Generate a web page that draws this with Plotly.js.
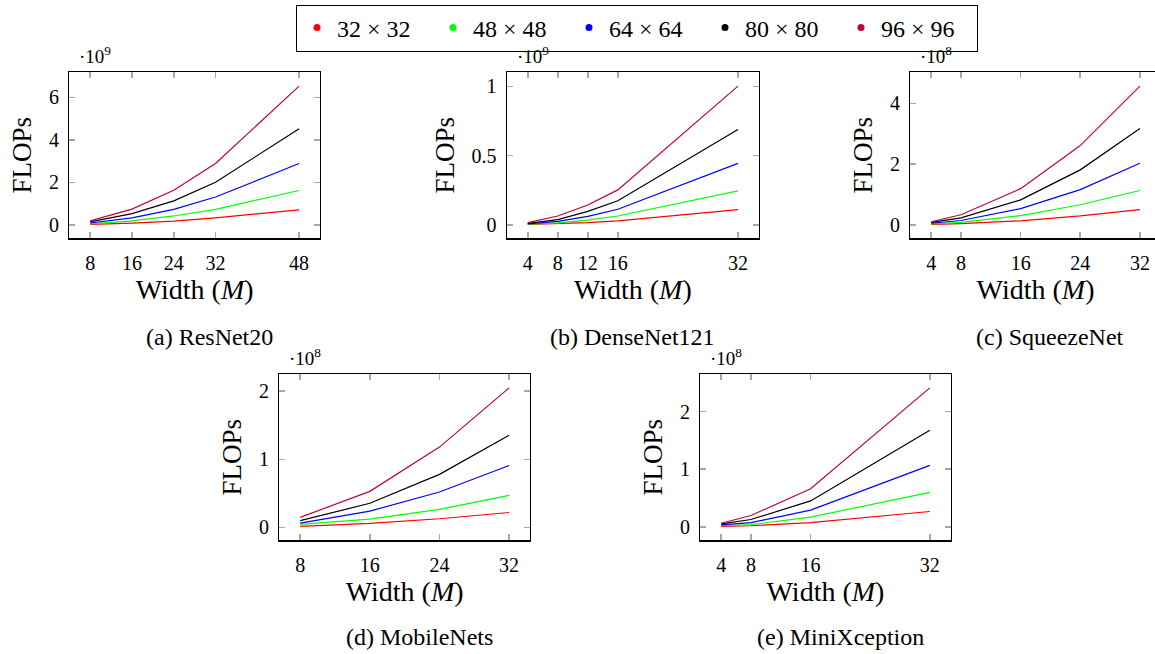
<!DOCTYPE html>
<html>
<head>
<meta charset="utf-8">
<script src="https://cdn.plot.ly/plotly-3.0.1.min.js"></script>
<style>
html, body { margin: 0; padding: 0; overflow: hidden; background: #fff; }
#chart { width: 1170px; height: 654px; }
</style>
</head>
<body>
<div id="chart"></div>
<script>
// ---------- data ----------
const seriesNames = ["32 × 32", "48 × 48", "64 × 64", "80 × 80", "96 × 96"];
const seriesColors = ["#ff0000", "#00ff00", "#0000ff", "#000000", "#bf0040"];

// (a) ResNet20, FLOPs in units of 1e9
const resnetWidth = [8, 16, 24, 32, 48];
const resnet32 = [0.02, 0.08, 0.18, 0.33, 0.71];
const resnet48 = [0.05, 0.19, 0.42, 0.73, 1.62];
const resnet64 = [0.09, 0.33, 0.73, 1.31, 2.89];
const resnet80 = [0.14, 0.53, 1.13, 2.01, 4.52];
const resnet96 = [0.19, 0.74, 1.63, 2.89, 6.53];

// (b) DenseNet121, FLOPs in units of 1e9
const densenetWidth = [4, 8, 12, 16, 32];
const densenet32 = [0.002, 0.006, 0.015, 0.028, 0.110];
const densenet48 = [0.004, 0.014, 0.034, 0.063, 0.245];
const densenet64 = [0.007, 0.025, 0.061, 0.112, 0.444];
const densenet80 = [0.010, 0.037, 0.097, 0.173, 0.688];
const densenet96 = [0.015, 0.063, 0.143, 0.252, 1.002];

// (c) SqueezeNet, FLOPs in units of 1e8
const squeezeWidth = [4, 8, 16, 24, 32];
const squeeze32 = [0.01, 0.04, 0.13, 0.29, 0.50];
const squeeze48 = [0.03, 0.08, 0.30, 0.66, 1.13];
const squeeze64 = [0.05, 0.14, 0.53, 1.16, 2.03];
const squeeze80 = [0.08, 0.23, 0.82, 1.81, 3.17];
const squeeze96 = [0.10, 0.33, 1.19, 2.61, 4.57];

// (d) MobileNets, FLOPs in units of 1e8
const mobileWidth = [8, 16, 24, 32];
const mobile32 = [0.015, 0.060, 0.128, 0.220];
const mobile48 = [0.044, 0.123, 0.266, 0.470];
const mobile64 = [0.064, 0.240, 0.520, 0.910];
const mobile80 = [0.100, 0.355, 0.780, 1.355];
const mobile96 = [0.148, 0.530, 1.180, 2.050];

// (e) MiniXception, FLOPs in units of 1e8
const xceptionWidth = [4, 8, 16, 32];
const xception32 = [0.008, 0.020, 0.075, 0.267];
const xception48 = [0.020, 0.040, 0.168, 0.600];
const xception64 = [0.035, 0.075, 0.290, 1.067];
const xception80 = [0.052, 0.128, 0.450, 1.675];
const xception96 = [0.064, 0.197, 0.660, 2.410];

const captions = ["(a) ResNet20", "(b) DenseNet121", "(c) SqueezeNet", "(d) MobileNets", "(e) MiniXception"];
const exponents = ["·10<sup>9</sup>", "·10<sup>9</sup>", "·10<sup>8</sup>", "·10<sup>8</sup>", "·10<sup>8</sup>"];
const yTicks = [[0, 2, 4, 6], [0, 0.5, 1], [0, 2, 4], [0, 1, 2], [0, 1, 2]];

const panels = [
  {x: resnetWidth, ys: [resnet32, resnet48, resnet64, resnet80, resnet96]},
  {x: densenetWidth, ys: [densenet32, densenet48, densenet64, densenet80, densenet96]},
  {x: squeezeWidth, ys: [squeeze32, squeeze48, squeeze64, squeeze80, squeeze96]},
  {x: mobileWidth, ys: [mobile32, mobile48, mobile64, mobile80, mobile96]},
  {x: xceptionWidth, ys: [xception32, xception48, xception64, xception80, xception96]}
];

// ---------- layout geometry (pixels) ----------
const W = 1170, H = 654;
const boxes = [
  {l: 69.3, r: 320.0, t: 72.3, b: 238.3, cap: [209, 337]},
  {l: 506.7, r: 759.0, t: 72.3, b: 238.3, cap: [632, 337]},
  {l: 910.3, r: 1160.8, t: 72.3, b: 238.3, cap: [1050, 337]},
  {l: 279.3, r: 530.0, t: 374.0, b: 540.3, cap: [419, 637]},
  {l: 700.3, r: 950.7, t: 374.0, b: 540.3, cap: [840, 637]}
];

const serif = "'Liberation Serif', 'Times New Roman', serif";
const traces = [];
const layout = {
  width: W, height: H,
  margin: {l: 0, r: 0, t: 0, b: 0, autoexpand: false},
  paper_bgcolor: "#fff", plot_bgcolor: "#fff",
  font: {family: serif, color: "#000", size: 18},
  showlegend: true,
  legend: {
    orientation: "h", x: 296 / W, xanchor: "left", y: 1 - 28 / H, yanchor: "middle",
    bordercolor: "#000", borderwidth: 1, font: {family: serif, size: 24},
    entrywidth: 91, entrywidthmode: "pixels", itemwidth: 30, tracegroupgap: 0
  },
  annotations: [],
  hovermode: false
};

panels.forEach((p, i) => {
  const k = i === 0 ? "" : String(i + 1);
  const bx = boxes[i];
  const xmin = Math.min(...p.x), xmax = Math.max(...p.x);
  const ally = p.ys.flat();
  const ymin = Math.min(...ally), ymax = Math.max(...ally);
  const dx = (xmax - xmin) * 0.1, dy = (ymax - ymin) * 0.1;
  p.ys.forEach((ys, s) => {
    traces.push({
      x: p.x, y: ys, type: "scatter", mode: "lines",
      line: {color: seriesColors[s], width: 1.2},
      xaxis: "x" + k, yaxis: "y" + k, showlegend: false
    });
  });
  const common = {
    showline: true, linecolor: "#000", linewidth: 1.2, mirror: "ticks",
    ticks: "inside", ticklen: 6, tickwidth: 1.6, tickcolor: "#a8a8a8",
    showgrid: false, zeroline: false, automargin: false,
    tickfont: {family: serif, size: 20}
  };
  layout["xaxis" + k] = Object.assign({}, common, {
    domain: [bx.l / W, Math.min(bx.r / W, 1)],
    anchor: "y" + k, range: [xmin - dx, xmax + dx],
    tickmode: "array", tickvals: p.x, ticktext: p.x.map(String),
    ticklabelstandoff: 6,
    title: {text: "Width (<i>M</i>)", font: {family: serif, size: 28}, standoff: 0}
  });
  layout["yaxis" + k] = Object.assign({}, common, {
    domain: [1 - bx.b / H, 1 - bx.t / H],
    anchor: "x" + k, range: [ymin - dy, ymax + dy],
    tickmode: "array", tickvals: yTicks[i], ticktext: yTicks[i].map(String),
    ticklabelstandoff: 5,
    title: {text: "FLOPs", font: {family: serif, size: 27}, standoff: 9}
  });
  layout.annotations.push({
    xref: "paper", yref: "paper", x: (bx.l + 8) / W, y: 1 - (bx.t - 3) / H,
    xanchor: "left", yanchor: "bottom", showarrow: false,
    text: exponents[i], font: {family: serif, size: 19}
  });
  layout.annotations.push({
    xref: "paper", yref: "paper", x: bx.cap[0] / W, y: 1 - bx.cap[1] / H,
    xanchor: "center", yanchor: "middle", showarrow: false,
    text: captions[i], font: {family: serif, size: 24}
  });
});

// legend-only marker traces
seriesNames.forEach((name, s) => {
  traces.push({
    x: [null], y: [null], type: "scatter", mode: "markers", name: name,
    marker: {color: seriesColors[s], size: 7}, xaxis: "x", yaxis: "y", showlegend: true
  });
});

Plotly.newPlot("chart", traces, layout, {staticPlot: true, displayModeBar: false});
</script>
</body>
</html>
